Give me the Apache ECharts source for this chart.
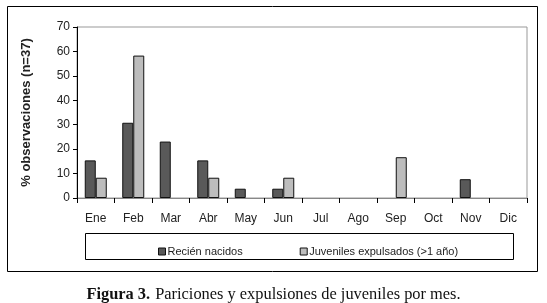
<!DOCTYPE html>
<html><head><meta charset="utf-8">
<script src="https://cdn.jsdelivr.net/npm/echarts@6/dist/echarts.min.js"></script>
<style>html,body{margin:0;padding:0;background:#fff}#c{width:547px;height:303px}</style>
</head><body><div id="c"></div>
<script>
const months = ['Ene','Feb','Mar','Abr','May','Jun','Jul','Ago','Sep','Oct','Nov','Dic'];
const recienNacidos = [15.4, 30.8, 23.1, 15.4, 3.8, 3.8, 0, 0, 0, 0, 7.7, 0];
const juveniles = [8.3, 58.3, 0, 8.3, 0, 8.3, 0, 0, 16.7, 0, 0, 0];
const yTicks = {min: 0, max: 70, interval: 10};
const seriesNames = ['Recién nacidos', 'Juveniles expulsados (>1 año)'];
const yTitle = '% observaciones (n=37)';
const captionLabel = 'Figura 3.';
const caption = 'Pariciones y expulsiones de juveniles por mes.';

// zero values draw no bar (no outline) as in the reference
const noZero = arr => arr.map(v => (v === 0 ? '-' : v));

const chart = echarts.init(document.getElementById('c'), null, {renderer: 'canvas'});
const font = 'Arial, "Liberation Sans", sans-serif';
const serif = '"Liberation Serif", "DejaVu Serif", serif';
chart.setOption({
  animation: false,
  backgroundColor: '#fff',
  textStyle: {fontFamily: font},
  grid: {left: 77, right: 20, top: 27, bottom: 105, show: true, borderColor: '#999', borderWidth: 1},
  title: {
    left: 'center', top: 281,
    text: '{b|' + captionLabel + '} {r|' + caption + '}',
    textStyle: {fontWeight: 'normal', rich: {
      b: {fontFamily: serif, fontWeight: 'bold', fontSize: 16.4, color: '#111'},
      r: {fontFamily: serif, fontWeight: 'normal', fontSize: 16.4, color: '#111'}
    }}
  },
  legend: {
    left: 153, top: 241, itemWidth: 7, itemHeight: 7, itemGap: 57,
    icon: 'rect',
    itemStyle: {borderColor: '#111', borderWidth: 1},
    textStyle: {fontSize: 11, color: '#222', fontFamily: font, padding: [0, 0, 0, -3]},
    data: seriesNames
  },
  graphic: [
    {type: 'rect', shape: {x: 7.5, y: 6.5, width: 530, height: 265}, style: {fill: null, stroke: '#000', lineWidth: 1}, silent: true, z: -1},
    {type: 'rect', shape: {x: 85.5, y: 233.5, width: 428, height: 26}, style: {fill: null, stroke: '#000', lineWidth: 1}, silent: true, z: -1}
  ],
  xAxis: {
    type: 'category', data: months,
    axisLine: {lineStyle: {color: '#888', width: 1}},
    axisTick: {show: true, length: 5, lineStyle: {color: '#000'}},
    axisLabel: {fontSize: 12, color: '#222', margin: 15}
  },
  yAxis: {
    type: 'value', min: yTicks.min, max: yTicks.max, interval: yTicks.interval,
    name: yTitle, nameLocation: 'middle', nameGap: 44,
    nameTextStyle: {fontSize: 13, fontWeight: 'bold', color: '#222'},
    axisLine: {show: true, lineStyle: {color: '#000'}},
    axisTick: {show: true, length: 4, lineStyle: {color: '#000'}},
    axisLabel: {fontSize: 12, color: '#222', margin: 7},
    splitLine: {show: false}
  },
  series: [
    {name: seriesNames[0], type: 'bar', data: noZero(recienNacidos), barWidth: 11, barGap: '0%',
     itemStyle: {color: '#595959', borderColor: '#111', borderWidth: 1}},
    {name: seriesNames[1], type: 'bar', data: noZero(juveniles), barWidth: 11, barGap: '0%',
     itemStyle: {color: '#bdbdbd', borderColor: '#111', borderWidth: 1}}
  ]
});
</script></body></html>
